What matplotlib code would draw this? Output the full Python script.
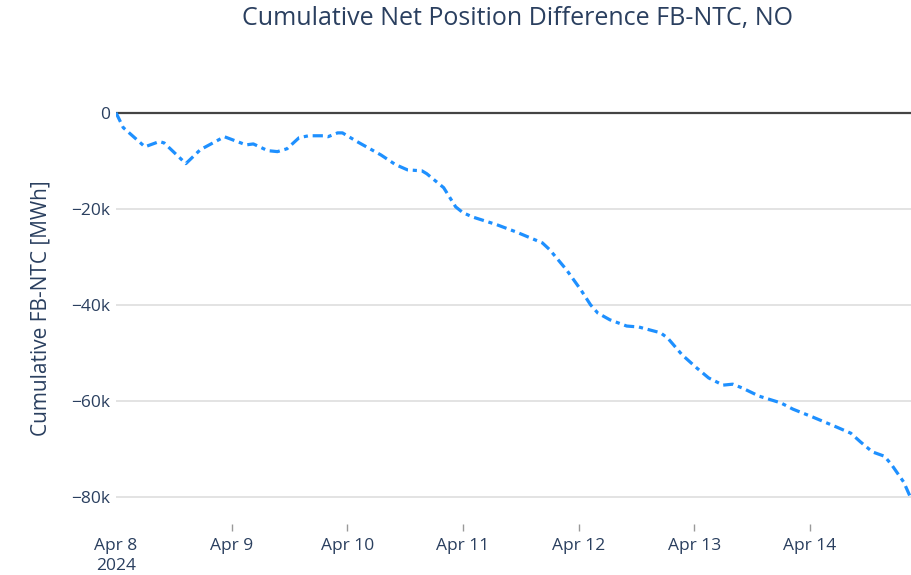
import matplotlib
matplotlib.use("Agg")
import matplotlib.pyplot as plt
from matplotlib.ticker import FuncFormatter
import pandas as pd

# Cumulative FB-NTC net position difference for NO, hours after 2024-04-08 00:00
hours_from_start = [0, 1.5, 6, 9, 10, 14.5, 17.5, 22.5, 27, 28.5, 31.5, 33.5, 35.5,
                    38, 40, 43, 44, 46, 47, 50, 55, 58, 60.5, 63.5, 64.5, 68, 70.5,
                    72, 74, 79, 83, 88.5, 90, 93.5, 96.5, 98.5, 100, 102.5, 106,
                    108.5, 113, 114.5, 117.5, 120.5, 123, 126, 128, 130, 133.5, 138,
                    140.5, 144.5, 149.5, 152.5, 154.5, 157, 159.5, 161, 163.5, 165]
cum_diff_mwh = [0, -3100, -7100, -6000, -6300, -10600, -7700, -5000, -6700, -6500,
                -7900, -8100, -7500, -5200, -4800, -4800, -5000, -4200, -4200, -6000,
                -8800, -10800, -11900, -12100, -12700, -15600, -19600, -20800, -21700,
                -23300, -24800, -27100, -28500, -32700, -36900, -40000, -41700, -43100,
                -44400, -44600, -45800, -46900, -50400, -53100, -55200, -56700, -56500,
                -57300, -59000, -60400, -61700, -63300, -65400, -66700, -68500, -70600,
                -71500, -73300, -76900, -80300]

tick_days = ["2024-04-08", "2024-04-09", "2024-04-10", "2024-04-11",
             "2024-04-12", "2024-04-13", "2024-04-14"]
tick_labels = ["Apr 8\n2024", "Apr 9", "Apr 10", "Apr 11", "Apr 12", "Apr 13", "Apr 14"]
y_ticks = [0, -20000, -40000, -60000, -80000]

text_color = "#2a3f5f"
plt.rcParams["font.family"] = ["Open Sans", "DejaVu Sans"]

start = pd.Timestamp("2024-04-08")
times = start + pd.to_timedelta(hours_from_start, unit="h")

fig = plt.figure(figsize=(9.11, 5.75), dpi=100)
ax = fig.add_axes([116 / 911, 51 / 575, 795 / 911, 431 / 575])
ax.set_axisbelow(True)

ax.plot(times, cum_diff_mwh, color="#1E90FF", lw=2.3,
        linestyle=(0, (3.2, 1.5, 1.3, 1.5)), zorder=3)

ax.set_xlim(start, start + pd.Timedelta(hours=165))
ax.set_ylim(-85600, 4100)

ax.set_yticks(y_ticks)
ax.yaxis.set_major_formatter(FuncFormatter(
    lambda v, _: "0" if v == 0 else f"\u2212{abs(int(v)) // 1000}k"))
ax.grid(axis="y", color="#e0e0e0", lw=1.3)
ax.axhline(0, color="#444444", lw=1.6, zorder=2)
ax.tick_params(axis="y", length=0, pad=4, labelsize=12.5, labelcolor=text_color)

ax.set_xticks(pd.to_datetime(tick_days))
ax.set_xticklabels(tick_labels)
ax.tick_params(axis="x", length=5, width=1, color="#999999", pad=5,
               labelsize=12.5, labelcolor=text_color)
ax.xaxis.get_major_ticks()[0].tick1line.set_visible(False)
for lbl in ax.get_xticklabels():
    lbl.set_linespacing(1.35)

for s in ax.spines.values():
    s.set_visible(False)

ax.set_ylabel("Cumulative FB-NTC [MWh]", fontsize=15, color=text_color, labelpad=14)
fig.text(517 / 911, 1 - 19 / 575, "Cumulative Net Position Difference FB-NTC, NO",
         ha="center", va="center", fontsize=18, color=text_color)

fig.savefig("out.png", dpi=100, facecolor="white")
